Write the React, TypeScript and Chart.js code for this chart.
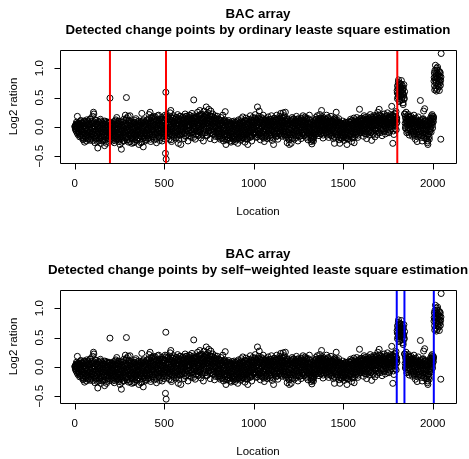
import { useEffect, useRef } from "react";
import { Chart, registerables } from "chart.js";
Chart.register(...registerables);

// Log2 ratio values.
// First set: each segment starts at segStarts[k]; second set at segStarts2[k]; step is 2 locations.
const segStarts = [1, 201, 401, 601, 801, 1001, 1201, 1401, 1601, 1801, 1845, 2007];
const segStarts2 = [2, 202, 402, 602, 802, 1002, 1202, 1402, 1602, 1802, 1846, 2008];
const locationStep = 2;

const segA = [
  0.00, 0.02, -0.03, 0.01, 0.05, -0.04, 0.02, 0.18, -0.02, 0.06, -0.08, 0.03, -0.12, 0.04, -0.06, 0.09, -0.15, 0.01, -0.05, 0.07,
  -0.18, -0.02, 0.05, -0.22, -0.09, 0.10, -0.04, -0.26, 0.02, -0.11, 0.06, -0.19, -0.03, 0.12, -0.14, -0.07, 0.03, -0.21, 0.08, -0.10,
  -0.01, -0.16, 0.13, -0.06, -0.23, 0.04, -0.12, 0.09, -0.02, -0.18, 0.07, -0.08, 0.25, 0.22, -0.15, 0.01, -0.27, 0.05, -0.09, 0.11,
  -0.20, -0.04, 0.06, -0.13, -0.36, 0.02, -0.07, -0.24, 0.08, -0.11, -0.02, -0.19, 0.10, -0.28, -0.05, 0.03, -0.16, -0.09, 0.07, -0.22,
  -0.03, 0.05, -0.14, -0.32, -0.08, 0.04, -0.18, 0.09, -0.06, -0.25, 0.01, -0.12, 0.06, -0.20, -0.04, 0.08, -0.15, -0.10, 0.49, -0.07,
];
const segB = [
  -0.11, 0.03, -0.19, -0.06, 0.07, -0.24, -0.02, -0.13, 0.05, -0.08, -0.27, 0.02, -0.16, 0.10, -0.05, -0.21, 0.04, 0.16, -0.12, -0.03,
  -0.18, 0.06, -0.09, -0.25, 0.01, -0.14, -0.30, -0.04, 0.08, -0.20, -0.38, -0.07, 0.03, -0.16, -0.11, 0.09, -0.23, -0.01, -0.13, 0.05,
  -0.08, 0.20, -0.17, 0.12, 0.50, -0.05, -0.22, 0.02, -0.10, 0.18, -0.26, -0.03, 0.07, -0.15, 0.19, -0.06, -0.19, 0.04, -0.12, -0.28,
  0.01, -0.09, 0.08, -0.21, -0.04, -0.14, 0.06, -0.25, -0.02, 0.11, -0.17, -0.07, 0.03, -0.23, -0.11, 0.09, -0.05, -0.19, 0.02, -0.30,
  -0.08, 0.05, -0.15, -0.01, -0.27, 0.07, -0.12, 0.23, -0.04, -0.20, 0.10, -0.34, -0.06, 0.02, -0.16, 0.08, -0.10, -0.24, 0.04, -0.13,
];
const segC = [
  0.03, -0.11, 0.12, -0.05, -0.20, 0.07, -0.02, 0.21, -0.14, 0.05, 0.25, -0.08, -0.25, 0.10, -0.03, 0.15, -0.17, 0.01, -0.10, 0.18,
  -0.06, 0.08, -0.22, 0.02, 0.14, -0.12, -0.01, 0.11, -0.27, 0.06, -0.09, 0.19, -0.04, 0.03, 0.20, -0.16, 0.09, -0.07, 0.13, -0.19,
  0.04, -0.11, 0.16, -0.03, -0.24, 0.07, 0.12, -0.08, 0.01, -0.15, 0.10, -0.05, 0.20, -0.45, 0.59, -0.55, -0.02, 0.14, -0.18, 0.06,
  -0.09, 0.17, 0.03, -0.21, 0.09, -0.04, 0.24, -0.13, 0.28, 0.00, -0.25, 0.11, -0.07, 0.15, -0.16, 0.05, 0.19, -0.02, -0.11, 0.08,
  0.13, -0.06, 0.02, -0.19, 0.16, -0.10, 0.07, 0.21, -0.03, -0.28, 0.10, -0.14, 0.04, 0.18, -0.08, 0.12, -0.30, 0.01, 0.15, -0.05,
];
const segD = [
  -0.12, 0.09, 0.17, -0.04, 0.05, -0.20, 0.13, -0.01, 0.22, -0.09, 0.06, -0.15, 0.18, 0.02, -0.06, 0.14, -0.24, 0.10, -0.02, 0.20,
  0.04, -0.11, 0.16, -0.05, 0.08, -0.18, 0.11, 0.23, -0.08, 0.01, 0.15, -0.13, 0.46, 0.06, -0.03, 0.19, -0.21, 0.09, 0.13, -0.07,
  0.17, -0.02, 0.07, 0.25, -0.14, 0.11, 0.03, -0.09, 0.20, 0.28, -0.05, 0.14, -0.19, 0.08, 0.22, 0.01, -0.12, 0.16, 0.05, -0.24,
  0.12, 0.27, -0.04, 0.18, 0.09, -0.10, 0.21, 0.34, 0.02, -0.15, 0.15, 0.06, 0.24, -0.07, 0.30, 0.10, -0.02, 0.19, -0.20, 0.13,
  0.27, 0.04, -0.09, 0.17, 0.08, 0.22, -0.13, 0.11, -0.01, 0.15, -0.22, 0.06, 0.19, 0.00, -0.11, 0.14, 0.09, -0.05, 0.18, -0.17,
];
const segE = [
  0.05, -0.08, 0.13, -0.15, 0.02, 0.10, -0.21, -0.03, 0.16, -0.11, 0.07, -0.18, 0.01, 0.20, -0.06, -0.24, 0.09, -0.02, 0.12, -0.13,
  0.26, -0.05, -0.30, 0.04, -0.16, 0.08, -0.09, -0.22, 0.03, 0.11, -0.14, -0.04, 0.06, -0.19, -0.10, 0.02, -0.26, 0.05, -0.07, 0.09,
  -0.12, -0.03, -0.20, 0.04, -0.08, 0.10, -0.16, -0.25, 0.01, -0.06, 0.07, -0.14, -0.02, -0.21, 0.05, -0.28, -0.09, 0.12, -0.04, -0.17,
  0.03, -0.11, 0.08, -0.23, -0.05, 0.14, -0.15, 0.01, -0.07, 0.17, -0.19, -0.02, 0.06, -0.12, 0.10, -0.26, 0.04, -0.08, 0.15, -0.14,
  -0.03, 0.09, -0.20, -0.30, 0.02, -0.10, 0.13, -0.06, -0.17, 0.05, 0.19, -0.13, -0.01, 0.08, -0.24, 0.11, -0.04, 0.16, -0.09, 0.03,
];
const segF = [
  0.07, -0.12, 0.15, -0.04, 0.21, -0.09, 0.02, -0.18, 0.11, -0.06, 0.34, 0.05, -0.14, 0.18, -0.02, 0.27, -0.10, 0.08, -0.22, 0.13,
  -0.05, 0.16, 0.01, -0.17, 0.09, -0.08, 0.20, -0.13, 0.04, -0.25, 0.12, -0.03, 0.07, -0.16, 0.14, -0.07, 0.03, -0.20, 0.10, -0.01,
  0.17, -0.11, 0.05, -0.06, 0.13, -0.19, 0.02, 0.09, -0.14, 0.19, -0.04, -0.23, 0.06, 0.11, -0.09, -0.30, 0.01, 0.15, -0.12, 0.08,
  -0.02, 0.12, -0.17, 0.04, 0.20, -0.07, 0.09, -0.21, 0.14, -0.03, 0.06, -0.13, 0.18, 0.00, -0.10, 0.23, -0.05, 0.11, -0.16, 0.07,
  0.15, -0.08, 0.24, 0.02, -0.12, 0.19, -0.04, 0.09, 0.25, -0.18, 0.05, -0.09, 0.13, -0.27, 0.01, 0.10, -0.14, 0.06, -0.22, -0.30,
];
const segG = [
  -0.06, 0.11, -0.13, 0.04, -0.28, 0.08, -0.02, 0.16, -0.19, 0.03, -0.09, 0.13, -0.04, -0.21, 0.07, 0.01, -0.15, 0.10, -0.07, 0.18,
  0.02, -0.11, 0.06, -0.24, 0.14, -0.03, 0.09, -0.16, 0.00, 0.12, -0.08, 0.05, -0.20, 0.15, -0.05, 0.08, -0.12, 0.19, 0.03, -0.09,
  0.11, -0.14, 0.04, 0.17, -0.06, 0.09, -0.18, 0.02, 0.13, -0.10, 0.06, -0.22, 0.14, 0.00, -0.07, 0.20, -0.13, 0.05, -0.02, -0.19,
  -0.25, -0.08, -0.29, -0.14, 0.03, -0.21, -0.11, 0.05, -0.17, 0.08, -0.04, 0.12, -0.09, 0.16, 0.02, -0.12, 0.07, 0.19, -0.05, 0.10,
  -0.03, 0.14, -0.15, 0.06, 0.21, -0.08, 0.09, 0.02, -0.12, 0.28, 0.04, -0.06, 0.17, -0.19, 0.11, 0.01, -0.10, 0.15, -0.04, 0.07,
];
const segH = [
  0.13, -0.09, 0.05, 0.20, -0.14, 0.02, 0.09, -0.06, 0.16, -0.18, 0.07, -0.02, 0.12, -0.11, 0.04, 0.18, -0.07, 0.01, -0.15, 0.10,
  -0.04, 0.08, -0.20, 0.03, -0.10, -0.28, 0.15, 0.06, -0.08, 0.11, 0.25, -0.13, 0.00, 0.09, -0.17, 0.04, -0.05, 0.14, -0.22, 0.02,
  -0.28, -0.07, 0.07, -0.12, 0.01, -0.19, 0.05, -0.04, 0.10, -0.15, -0.02, 0.06, -0.23, -0.09, 0.03, -0.14, 0.08, -0.06, -0.18, 0.04,
  -0.30, -0.11, 0.02, -0.21, -0.05, 0.09, -0.16, -0.01, 0.07, -0.12, 0.13, -0.08, 0.04, -0.25, 0.11, -0.03, -0.19, 0.06, -0.10, 0.15,
  -0.27, -0.06, 0.08, -0.14, 0.12, 0.01, -0.09, 0.16, -0.04, 0.05, -0.18, 0.10, 0.03, -0.11, 0.07, 0.30, -0.02, 0.14, -0.07, 0.09,
];
const segI = [
  0.02, 0.15, -0.10, 0.06, -0.03, 0.11, -0.16, 0.08, 0.19, -0.05, 0.04, -0.12, 0.13, 0.00, 0.09, -0.20, 0.07, -0.02, 0.17, -0.08,
  0.10, 0.03, -0.14, 0.12, -0.06, 0.21, 0.05, -0.09, 0.14, -0.23, 0.08, 0.01, 0.16, -0.11, 0.06, 0.19, -0.04, 0.11, -0.17, 0.07,
  0.13, -0.02, 0.20, 0.04, -0.13, 0.09, 0.25, -0.06, 0.12, 0.02, 0.30, 0.07, -0.10, 0.15, 0.05, -0.03, 0.18, 0.08, -0.15, 0.11,
  0.04, 0.16, -0.07, 0.09, 0.22, 0.01, 0.13, -0.12, 0.07, 0.19, -0.04, 0.10, 0.03, 0.24, -0.09, 0.14, 0.06, -0.02, 0.17, 0.08,
  -0.06, 0.12, 0.21, 0.05, 0.15, 0.35, 0.02, 0.10, -0.28, 0.18, 0.07, -0.13, 0.13, 0.04, 0.22, -0.03, 0.11, 0.26, 0.06, 0.15,
];
const segJ1 = [
  0.62, 0.48, 0.71, 0.55, 0.80, 0.66, 0.43, 0.59, 0.74, 0.52, 0.68, 0.61, 0.79, 0.46, 0.57, 0.70, 0.64, 0.38, 0.53, 0.72, 0.49, 0.60,
];
const segJ2 = [
  0.22, -0.02, 0.14, 0.25, 0.08, -0.10, 0.19, 0.03, 0.12, -0.05, 0.21, 0.07, -0.14, 0.10, 0.16, -0.03, 0.06, 0.18, -0.09, 0.11,
  0.02, -0.16, 0.13, 0.05, -0.07, 0.20, -0.12, 0.08, 0.00, -0.21, 0.15, 0.04, -0.09, 0.10, -0.25, 0.06, -0.03, 0.17, -0.14, 0.01,
  0.09, -0.11, 0.03, 0.45, -0.06, 0.12, -0.18, 0.05, -0.24, 0.07, -0.02, 0.14, 0.27, -0.13, 0.04, 0.31, -0.08, 0.10, -0.20, 0.02,
  -0.05, 0.08, -0.16, -0.27, -0.30, 0.01, -0.12, 0.06, -0.21, 0.11, -0.03, 0.15, 0.04, -0.09, 0.19, 0.07, 0.21, -0.02, 0.13, 0.09, 0.17,
];
const segJ3 = [
  0.78, 0.92, 0.63, 0.85, 1.05, 0.74, 0.88, 0.61, 0.97, 0.82, 1.02, 0.69, 0.90, 0.77, 0.86, 0.62, 0.94, 0.80, 0.71, -0.21, 1.25,
];

const segA2 = [
  0.01, -0.04, 0.03, -0.07, 0.08, -0.01, -0.10, 0.04, -0.13, 0.02, 0.07, -0.09, 0.00, -0.17, 0.05, -0.03, 0.11, -0.12, -0.06, 0.03,
  -0.08, 0.06, -0.15, 0.01, -0.20, -0.05, 0.09, -0.11, 0.02, -0.16, -0.02, 0.08, -0.24, -0.07, 0.04, -0.13, 0.10, -0.04, -0.18, 0.05,
  -0.09, 0.03, -0.21, 0.14, -0.06, -0.01, -0.17, 0.06, -0.12, 0.18, -0.04, -0.23, 0.02, -0.10, 0.08, -0.15, -0.03, 0.12, -0.19, -0.06,
  0.04, -0.12, -0.25, 0.01, -0.08, 0.09, -0.16, -0.03, -0.21, 0.05, -0.10, 0.13, -0.06, -0.18, 0.02, -0.13, 0.07, -0.24, -0.01, -0.09,
  0.05, -0.17, -0.05, 0.10, -0.22, -0.02, -0.11, 0.04, -0.28, -0.07, 0.08, -0.14, -0.01, -0.19, 0.06, -0.09, -0.23, 0.02, -0.12, 0.03,
];
const segB2 = [
  -0.04, -0.16, 0.06, -0.10, -0.21, 0.02, -0.07, -0.18, 0.09, -0.13, -0.02, -0.23, 0.04, -0.09, 0.12, -0.15, -0.05, 0.07, -0.20, -0.11,
  0.03, -0.14, -0.03, 0.10, -0.22, -0.08, 0.05, -0.17, -0.12, 0.02, -0.26, -0.05, 0.08, -0.19, -0.01, -0.10, 0.13, -0.24, -0.06, 0.01,
  -0.15, 0.06, -0.11, -0.02, 0.15, -0.18, -0.07, 0.04, -0.21, 0.09, -0.13, -0.03, 0.11, -0.09, -0.25, 0.03, -0.15, 0.07, -0.04, -0.20,
  -0.10, 0.05, -0.16, -0.01, -0.27, 0.08, -0.08, -0.19, 0.04, -0.12, 0.14, -0.06, -0.22, 0.00, -0.14, 0.06, -0.09, -0.03, -0.18, 0.10,
  -0.05, -0.21, 0.03, -0.11, 0.09, -0.16, -0.02, -0.26, 0.06, -0.08, -0.15, 0.12, -0.03, -0.19, 0.05, -0.12, -0.01, 0.08, -0.22, -0.06,
];
const segC2 = [
  -0.07, 0.06, -0.15, 0.10, -0.02, -0.19, 0.14, -0.09, 0.03, -0.12, 0.08, -0.21, 0.01, 0.16, -0.06, -0.14, 0.11, -0.03, 0.05, -0.17,
  0.12, -0.08, 0.02, -0.13, 0.17, -0.05, 0.09, -0.20, 0.04, -0.10, 0.13, -0.02, -0.16, 0.07, -0.07, 0.10, -0.23, 0.05, -0.11, 0.02,
  -0.05, 0.09, -0.18, 0.03, 0.13, -0.12, -0.02, 0.06, -0.20, 0.11, -0.08, 0.01, 0.16, -0.14, 0.04, -0.06, 0.19, -0.10, 0.08, -0.03,
  0.12, -0.15, 0.05, -0.07, 0.14, -0.11, 0.00, 0.17, -0.22, 0.08, -0.04, 0.10, -0.13, 0.03, 0.15, -0.09, 0.06, -0.18, 0.11, -0.01,
  -0.12, 0.07, 0.16, -0.05, 0.02, -0.16, 0.12, -0.08, 0.05, 0.14, -0.21, 0.03, -0.06, 0.09, -0.14, 0.18, -0.02, -0.10, 0.06, 0.11,
];
const segD2 = [
  0.05, -0.08, 0.12, -0.02, 0.15, -0.11, 0.07, 0.01, -0.16, 0.10, 0.18, -0.04, 0.08, -0.13, 0.13, 0.03, -0.07, 0.16, -0.01, 0.09,
  -0.15, 0.12, 0.02, 0.19, -0.06, 0.07, -0.10, 0.14, 0.04, -0.03, 0.11, -0.18, 0.06, 0.15, -0.05, 0.09, 0.00, 0.17, -0.12, 0.05,
  0.10, -0.07, 0.14, 0.03, -0.15, 0.08, 0.18, -0.02, 0.12, -0.09, 0.06, 0.21, -0.04, 0.11, 0.02, -0.13, 0.15, 0.07, -0.06, 0.13,
  0.01, 0.17, -0.10, 0.09, 0.05, 0.20, -0.03, 0.12, -0.14, 0.07, 0.16, 0.00, 0.10, -0.08, 0.14, 0.04, 0.19, -0.11, 0.08, 0.02,
  0.13, -0.05, 0.10, 0.18, -0.12, 0.06, 0.01, 0.15, -0.08, 0.11, 0.04, -0.16, 0.09, 0.14, -0.03, 0.07, -0.10, 0.12, 0.02, -0.07,
];
const segE2 = [
  -0.04, 0.09, -0.12, 0.03, -0.18, 0.06, -0.07, 0.11, -0.15, 0.00, -0.09, 0.07, -0.20, 0.04, -0.03, 0.10, -0.13, -0.06, 0.08, -0.17,
  0.02, -0.11, 0.06, -0.22, -0.02, 0.09, -0.14, -0.07, 0.04, -0.19, 0.01, -0.10, 0.07, -0.24, -0.04, 0.05, -0.13, 0.02, -0.18, -0.08,
  0.06, -0.15, -0.01, -0.22, 0.03, -0.09, -0.17, 0.08, -0.05, -0.12, 0.04, -0.20, -0.07, 0.02, -0.15, 0.09, -0.11, -0.02, -0.19, 0.05,
  -0.08, 0.06, -0.16, 0.01, -0.21, -0.04, 0.10, -0.12, -0.01, -0.18, 0.07, -0.09, 0.03, -0.14, -0.06, 0.11, -0.20, 0.00, -0.10, 0.05,
  -0.13, -0.21, 0.04, -0.07, -0.15, 0.08, -0.02, -0.11, 0.06, -0.18, 0.02, -0.08, 0.12, -0.05, -0.16, 0.03, -0.10, 0.08, -0.01, -0.12,
];
const segF2 = [
  -0.03, 0.10, -0.08, 0.06, -0.14, 0.13, 0.01, -0.10, 0.08, -0.17, 0.04, 0.15, -0.06, 0.09, -0.12, 0.02, 0.12, -0.04, 0.07, -0.15,
  0.11, -0.02, -0.11, 0.05, 0.14, -0.07, 0.03, -0.19, 0.09, 0.00, -0.09, 0.12, -0.05, 0.06, -0.13, 0.10, -0.01, -0.16, 0.07, 0.03,
  -0.08, 0.11, -0.03, 0.05, -0.15, 0.08, -0.06, 0.13, 0.01, -0.11, 0.07, -0.04, -0.18, 0.09, 0.02, -0.09, 0.14, -0.06, 0.04, -0.13,
  0.08, -0.01, 0.11, -0.10, 0.05, -0.15, 0.13, 0.02, -0.07, 0.10, -0.12, 0.06, -0.03, 0.15, -0.08, 0.03, -0.14, 0.09, 0.00, -0.05,
  0.10, 0.04, -0.09, 0.17, -0.02, 0.07, -0.13, 0.12, 0.01, -0.07, 0.09, -0.16, 0.05, 0.14, -0.10, 0.03, -0.19, 0.08, -0.04, -0.14,
];
const segG2 = [
  -0.10, 0.04, -0.17, 0.09, -0.03, 0.12, -0.08, 0.02, -0.14, 0.07, 0.14, -0.05, 0.01, -0.12, 0.10, -0.02, 0.06, -0.18, 0.11, 0.03,
  -0.07, 0.13, -0.14, 0.04, -0.02, 0.10, -0.09, 0.07, -0.16, 0.01, 0.09, -0.05, 0.14, -0.11, 0.03, -0.01, 0.12, -0.15, 0.06, 0.00,
  -0.09, 0.08, -0.03, 0.11, -0.12, 0.05, 0.15, -0.07, 0.02, -0.16, 0.09, -0.01, 0.06, -0.10, 0.12, -0.04, 0.03, -0.13, 0.08, -0.08,
  -0.16, -0.22, -0.06, -0.18, -0.10, 0.01, -0.24, -0.04, 0.06, -0.13, 0.10, -0.02, 0.04, -0.08, 0.13, -0.05, 0.09, 0.02, -0.11, 0.06,
  0.08, -0.09, 0.03, 0.12, -0.05, 0.15, -0.12, 0.06, -0.01, 0.10, -0.07, 0.13, 0.00, -0.14, 0.05, 0.09, -0.06, 0.11, -0.02, 0.04,
];
const segH2 = [
  0.02, 0.08, -0.11, 0.12, -0.04, 0.06, -0.09, 0.14, -0.02, 0.03, -0.13, 0.10, 0.00, -0.07, 0.09, -0.15, 0.05, 0.11, -0.05, 0.01,
  -0.12, 0.07, -0.02, 0.13, -0.17, -0.06, 0.04, 0.10, -0.11, 0.02, 0.08, -0.08, 0.12, -0.03, -0.14, 0.06, 0.01, -0.10, 0.07, -0.18,
  -0.07, -0.15, 0.03, -0.05, -0.20, 0.06, -0.10, 0.00, -0.14, 0.04, -0.08, -0.17, 0.02, -0.12, -0.03, 0.07, -0.19, -0.01, -0.09, 0.05,
  -0.14, -0.04, -0.20, 0.03, -0.09, -0.01, 0.05, -0.15, 0.08, -0.06, -0.02, 0.10, -0.13, -0.07, 0.04, -0.17, 0.01, -0.11, 0.07, -0.03,
  -0.18, 0.04, -0.09, 0.09, -0.04, -0.12, 0.06, 0.01, -0.08, 0.11, -0.02, -0.14, 0.08, 0.02, -0.06, 0.12, -0.10, 0.05, 0.00, 0.10,
];
const segI2 = [
  0.08, -0.03, 0.11, -0.06, 0.14, 0.02, -0.09, 0.12, 0.05, -0.01, 0.16, -0.07, 0.09, 0.03, -0.12, 0.13, 0.06, -0.04, 0.10, 0.01,
  -0.08, 0.15, 0.04, -0.02, 0.11, -0.10, 0.07, 0.17, 0.00, 0.09, -0.06, 0.13, 0.04, -0.13, 0.10, 0.02, 0.14, -0.05, 0.08, 0.16,
  0.03, -0.07, 0.12, 0.06, 0.18, -0.03, 0.09, 0.01, 0.15, -0.09, 0.11, 0.05, 0.20, -0.02, 0.07, 0.13, -0.06, 0.10, 0.03, 0.16,
  0.09, -0.04, 0.14, 0.06, -0.08, 0.12, 0.02, 0.17, 0.08, -0.01, 0.11, 0.05, 0.19, -0.05, 0.09, 0.13, 0.03, -0.10, 0.15, 0.07,
  0.12, 0.01, 0.17, 0.08, -0.03, 0.14, 0.06, 0.20, 0.10, -0.07, 0.16, 0.04, 0.11, 0.23, 0.02, 0.09, 0.18, -0.05, 0.13, 0.08,
];
const segJ1b = [
  0.58, 0.69, 0.51, 0.76, 0.63, 0.56, 0.72, 0.45, 0.65, 0.60, 0.54, 0.73, 0.67, 0.50, 0.62, 0.58, 0.41, 0.66, 0.55, 0.47, 0.22,
];
const segJ2b = [
  0.06, 0.17, 0.01, 0.11, -0.04, 0.15, 0.09, -0.08, 0.13, 0.04, -0.02, 0.10, 0.16, -0.06, 0.08, 0.03, 0.12, -0.11, 0.05, 0.14,
  -0.03, 0.07, -0.09, 0.11, 0.02, -0.14, 0.09, -0.01, 0.12, -0.06, 0.04, 0.08, -0.12, 0.01, 0.10, -0.17, 0.05, -0.04, 0.09, -0.08,
  0.03, -0.13, 0.07, 0.01, -0.07, 0.10, -0.15, 0.04, -0.02, 0.13, -0.10, 0.06, -0.05, 0.09, -0.19, 0.02, 0.11, -0.06, 0.05, -0.12,
  -0.09, -0.20, 0.03, -0.24, -0.14, -0.05, 0.04, -0.17, 0.07, -0.08, 0.10, 0.01, -0.04, 0.12, 0.06, 0.15, 0.03, 0.18, 0.08, 0.14,
];
const segJ3b = [
  0.84, 0.70, 0.96, 0.80, 0.66, 0.91, 0.76, 1.00, 0.83, 0.64, 0.89, 0.73, 0.95, 0.81, 0.68, 0.87, 0.75, 0.92, 0.79, 0.85,
];

const segments = [segA, segB, segC, segD, segE, segF, segG, segH, segI, segJ1, segJ2, segJ3];
const segments2 = [segA2, segB2, segC2, segD2, segE2, segF2, segG2, segH2, segI2, segJ1b, segJ2b, segJ3b];

const olsChangePoints = [197, 510, 1802];
const swlsChangePoints = [1799, 1842, 2006];

const xTicks = [0, 500, 1000, 1500, 2000];
const yTicks = [-0.5, 0, 0.5, 1.0];
const yTickLabels = ["\u22120.5", "0.0", "0.5", "1.0"];

const mainTitle = "BAC array";
const olsSubtitle = "Detected change points by ordinary leaste square estimation";
const swlsSubtitle = "Detected change points by self\u2212weighted leaste square estimation";
const xTitle = "Location";
const yTitle = "Log2 ration";

const X_MIN = -82;
const X_MAX = 2130;
const Y_MIN = -0.615;
const Y_MAX = 1.31;

const FONT = '"Liberation Sans", Arial, Helvetica, sans-serif';

const toPoints = (segs: number[][], starts: number[]) =>
  segs.flatMap((seg, k) => seg.map((v, j) => ({ x: starts[k] + locationStep * j, y: v })));
const points = [...toPoints(segments, segStarts), ...toPoints(segments2, segStarts2)].sort((a, b) => a.x - b.x);

function makeFramePlugin(subtitle: string) {
  return {
    id: "rFrame",
    afterDraw(chart: any) {
      const { ctx, chartArea: a, scales } = chart;
      const xs = scales.x;
      const ys = scales.y;
      ctx.save();
      ctx.strokeStyle = "#000";
      ctx.lineWidth = 1;
      const L = Math.round(a.left) + 0.5;
      const T = Math.round(a.top) + 0.5;
      const R = Math.round(a.right) + 0.5;
      const B = Math.round(a.bottom) + 0.5;
      ctx.beginPath();
      ctx.rect(L, T, R - L, B - T);
      const xp = xTicks.map((t) => Math.round(xs.getPixelForValue(t)) + 0.5);
      ctx.moveTo(xp[0], B);
      ctx.lineTo(xp[xp.length - 1], B);
      xp.forEach((p) => {
        ctx.moveTo(p, B);
        ctx.lineTo(p, B + 6);
      });
      const yp = yTicks.map((t) => Math.round(ys.getPixelForValue(t)) + 0.5);
      ctx.moveTo(L, yp[0]);
      ctx.lineTo(L, yp[yp.length - 1]);
      yp.forEach((p) => {
        ctx.moveTo(L, p);
        ctx.lineTo(L - 6, p);
      });
      ctx.stroke();

      ctx.fillStyle = "#000";
      ctx.textAlign = "center";
      ctx.textBaseline = "middle";
      ctx.font = `11.5px ${FONT}`;
      xTicks.forEach((t) => ctx.fillText(String(t), xs.getPixelForValue(t), a.bottom + 21));
      yTicks.forEach((t, i) => {
        ctx.save();
        ctx.translate(a.left - 20, ys.getPixelForValue(t));
        ctx.rotate(-Math.PI / 2);
        ctx.fillText(yTickLabels[i], 0, 0);
        ctx.restore();
      });
      const cx = (a.left + a.right) / 2;
      ctx.fillText(xTitle, cx, a.bottom + 49);
      ctx.save();
      ctx.translate(14, (a.top + a.bottom) / 2);
      ctx.rotate(-Math.PI / 2);
      ctx.fillText(yTitle, 0, 0);
      ctx.restore();

      ctx.font = `bold 13.3px ${FONT}`;
      ctx.fillText(mainTitle, cx, 14);
      ctx.fillText(subtitle, cx, 30);
      ctx.restore();
    },
  };
}

function Panel(props: { height: number; subtitle: string; changes: number[]; color: string }) {
  const ref = useRef<HTMLCanvasElement>(null);
  useEffect(() => {
    const lineSets = props.changes.map((c) => ({
      data: [
        { x: c, y: Y_MIN },
        { x: c, y: Y_MAX },
      ],
      showLine: true,
      borderColor: props.color,
      borderWidth: 2,
      pointRadius: 0,
      order: 0,
    }));
    const chart = new Chart(ref.current as HTMLCanvasElement, {
      type: "scatter",
      data: {
        datasets: [
          ...lineSets,
          {
            data: points,
            pointRadius: 3,
            pointBorderWidth: 1,
            borderColor: "#000",
            backgroundColor: "rgba(0,0,0,0)",
            pointBackgroundColor: "rgba(0,0,0,0)",
            pointBorderColor: "#000",
            order: 1,
          },
        ],
      } as any,
      options: {
        responsive: false,
        animation: false,
        devicePixelRatio: 1,
        layout: { padding: { left: 60, right: 13, top: 50, bottom: props.height - 163 } },
        scales: {
          x: { type: "linear", min: X_MIN, max: X_MAX, display: false },
          y: { type: "linear", min: Y_MIN, max: Y_MAX, display: false },
        },
        plugins: { legend: { display: false }, tooltip: { enabled: false } },
        events: [],
      } as any,
      plugins: [makeFramePlugin(props.subtitle)],
    });
    return () => chart.destroy();
  }, []);
  return (
    <canvas
      ref={ref}
      width={469}
      height={props.height}
      style={{ display: "block", width: 469, height: props.height }}
    />
  );
}

export default function App() {
  return (
    <div style={{ position: "absolute", left: 0, top: 0, width: 469, height: 459, background: "#fff", overflow: "hidden" }}>
      <Panel height={240} subtitle={olsSubtitle} changes={olsChangePoints} color="#ff0000" />
      <Panel height={219} subtitle={swlsSubtitle} changes={swlsChangePoints} color="#0000ff" />
    </div>
  );
}
